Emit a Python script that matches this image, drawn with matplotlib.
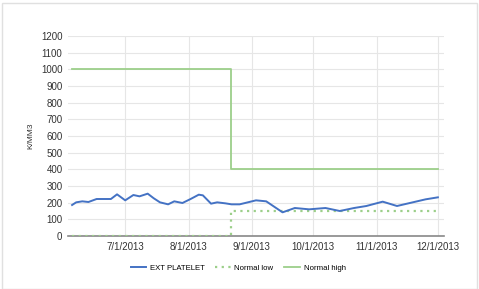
import matplotlib
matplotlib.use("Agg")
import matplotlib.pyplot as plt
import matplotlib.dates as mdates
import pandas as pd
from matplotlib.patches import Rectangle

dates = ["2013-06-05", "2013-06-07", "2013-06-10", "2013-06-13", "2013-06-17", "2013-06-20",
         "2013-06-24", "2013-06-27", "2013-07-01", "2013-07-05", "2013-07-08", "2013-07-12",
         "2013-07-15", "2013-07-18", "2013-07-22", "2013-07-25", "2013-07-29", "2013-08-02",
         "2013-08-06", "2013-08-08", "2013-08-12", "2013-08-15", "2013-08-19", "2013-08-22",
         "2013-08-26", "2013-08-30", "2013-09-03", "2013-09-08", "2013-09-16", "2013-09-22",
         "2013-09-29", "2013-10-07", "2013-10-14", "2013-10-21", "2013-10-27", "2013-11-04",
         "2013-11-11", "2013-11-18", "2013-11-25", "2013-12-01"]
platelet = [186, 202, 208, 204, 222, 222, 222, 250, 214, 246, 238, 254, 226, 202, 190, 208,
            198, 222, 248, 244, 194, 202, 196, 190, 190, 202, 214, 208, 142, 168, 160, 168,
            150, 168, 180, 206, 180, 200, 220, 232]
normal_low = [0] * 23 + [150] * 17
normal_high = [1000] * 23 + [400] * 17

tick_dates = ["2013-07-01", "2013-08-01", "2013-09-01", "2013-10-01", "2013-11-01", "2013-12-01"]
tick_labels = ["7/1/2013", "8/1/2013", "9/1/2013", "10/1/2013", "11/1/2013", "12/1/2013"]
yticks = list(range(0, 1201, 100))

plt.rcParams['font.family'] = ['Liberation Sans', 'DejaVu Sans']

x = pd.to_datetime(dates)
fig = plt.figure(figsize=(4.79, 2.89), dpi=100)
ax = fig.add_axes([68/479, 1 - 236/289, (444-68)/479, (236-36)/289])

blue = "#4472C4"
green = "#9CCF8A"
ax.plot(x, normal_high, color=green, lw=1.3, drawstyle="steps-post", label="Normal high", zorder=3)
ax.plot(x, normal_low, color=green, lw=1.6, ls=(0, (1, 2)), drawstyle="steps-post", label="Normal low", zorder=4)
ax.plot(x, platelet, color=blue, lw=1.4, label="EXT PLATELET", zorder=5)

ax.set_ylim(0, 1200)
ax.set_yticks(yticks)
ax.set_xlim(pd.Timestamp("2013-06-03"), pd.Timestamp("2013-12-04"))
ax.set_xticks(pd.to_datetime(tick_dates))
ax.set_xticklabels(tick_labels)
ax.tick_params(axis="both", length=0, labelsize=7, colors="#333333", pad=4)
ax.grid(True, color="#E6E6E6", lw=0.8)
ax.set_axisbelow(True)
for s in ["top", "right", "left"]:
    ax.spines[s].set_visible(False)
ax.spines["bottom"].set_color("#888888")
ax.spines["bottom"].set_linewidth(1.2)
ax.set_ylabel("K/MM3", fontsize=6, color="#333333", labelpad=5)

h, l = ax.get_legend_handles_labels()
order = [2, 1, 0]
fig.legend([h[i] for i in order], [l[i] for i in order], loc="center", bbox_to_anchor=(0.497, 1 - 268/289),
           ncol=3, frameon=False, fontsize=5.6, handlelength=2.0, columnspacing=1.4, handletextpad=0.45)

fig.patches.append(Rectangle((2/479, 0), 475/479, 1 - 3/289, transform=fig.transFigure,
                             fill=False, edgecolor="#E0E0E0", lw=1))
fig.savefig("out.png", dpi=100)
